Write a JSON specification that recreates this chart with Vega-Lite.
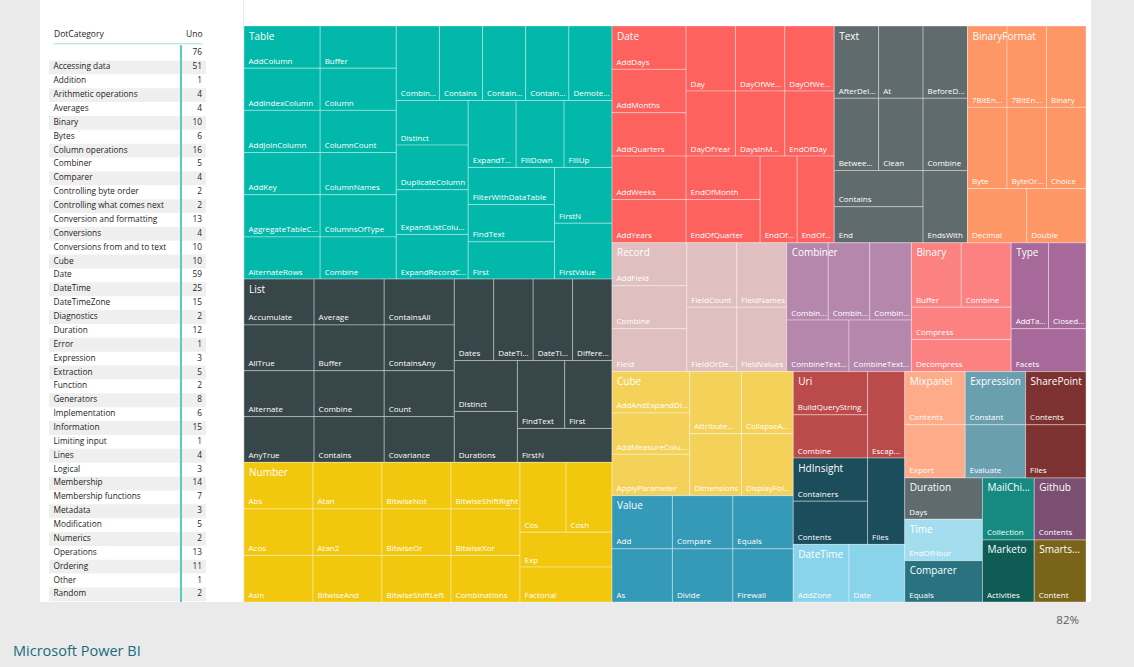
{
  "$schema": "https://vega.github.io/schema/vega-lite/v6.json",
  "background": "#eaeaea",
  "padding": {"left": 13, "top": 0, "right": 44, "bottom": 8},
  "spacing": 0,
  "config": {
    "view": {"stroke": null, "fill": "#ffffff"},
    "font": "Segoe UI, Open Sans, sans-serif",
    "title": {"font": "Segoe UI, Open Sans, sans-serif", "fontWeight": "normal"}
  },
  "datasets": {
    "table": [
      {"DotCategory": "", "Uno": 76},
      {"DotCategory": "Accessing data", "Uno": 51},
      {"DotCategory": "Addition", "Uno": 1},
      {"DotCategory": "Arithmetic operations", "Uno": 4},
      {"DotCategory": "Averages", "Uno": 4},
      {"DotCategory": "Binary", "Uno": 10},
      {"DotCategory": "Bytes", "Uno": 6},
      {"DotCategory": "Column operations", "Uno": 16},
      {"DotCategory": "Combiner", "Uno": 5},
      {"DotCategory": "Comparer", "Uno": 4},
      {"DotCategory": "Controlling byte order", "Uno": 2},
      {"DotCategory": "Controlling what comes next", "Uno": 2},
      {"DotCategory": "Conversion and formatting", "Uno": 13},
      {"DotCategory": "Conversions", "Uno": 4},
      {"DotCategory": "Conversions from and to text", "Uno": 10},
      {"DotCategory": "Cube", "Uno": 10},
      {"DotCategory": "Date", "Uno": 59},
      {"DotCategory": "DateTime", "Uno": 25},
      {"DotCategory": "DateTimeZone", "Uno": 15},
      {"DotCategory": "Diagnostics", "Uno": 2},
      {"DotCategory": "Duration", "Uno": 12},
      {"DotCategory": "Error", "Uno": 1},
      {"DotCategory": "Expression", "Uno": 3},
      {"DotCategory": "Extraction", "Uno": 5},
      {"DotCategory": "Function", "Uno": 2},
      {"DotCategory": "Generators", "Uno": 8},
      {"DotCategory": "Implementation", "Uno": 6},
      {"DotCategory": "Information", "Uno": 15},
      {"DotCategory": "Limiting input", "Uno": 1},
      {"DotCategory": "Lines", "Uno": 4},
      {"DotCategory": "Logical", "Uno": 3},
      {"DotCategory": "Membership", "Uno": 14},
      {"DotCategory": "Membership functions", "Uno": 7},
      {"DotCategory": "Metadata", "Uno": 3},
      {"DotCategory": "Modification", "Uno": 5},
      {"DotCategory": "Numerics", "Uno": 2},
      {"DotCategory": "Operations", "Uno": 13},
      {"DotCategory": "Ordering", "Uno": 11},
      {"DotCategory": "Other", "Uno": 1},
      {"DotCategory": "Random", "Uno": 2}
    ],
    "groups": [
      {"g": "Table", "gs": 0, "dirs": "ccrcrcc"},
      {"g": "List", "gs": 0, "dirs": "cccrcrc"},
      {"g": "Number", "gs": 0, "dirs": "ccccrc"},
      {"g": "Date", "gs": 1, "dirs": "crrcr"},
      {"g": "Text", "gs": 1, "dirs": "rrcc"},
      {"g": "BinaryFormat", "gs": 1, "dirs": "rrr"},
      {"g": "Record", "gs": 2, "dirs": "crr"},
      {"g": "Combiner", "gs": 2, "dirs": "rr"},
      {"g": "Binary", "gs": 2, "dirs": "rrr"},
      {"g": "Type", "gs": 2, "dirs": "rr"},
      {"g": "Cube", "gs": 3, "dirs": "crr"},
      {"g": "Value", "gs": 3, "dirs": "ccc"},
      {"g": "Uri", "gs": 4, "dirs": "cc"},
      {"g": "HdInsight", "gs": 4, "dirs": "cc"},
      {"g": "DateTime", "gs": 4, "dirs": "cc"},
      {"g": "Mixpanel", "gs": 5, "dirs": "rr"},
      {"g": "Expression", "gs": 5, "dirs": "rr"},
      {"g": "SharePoint", "gs": 5, "dirs": "rr"},
      {"g": "Duration", "gs": 6, "dirs": "c"},
      {"g": "Time", "gs": 6, "dirs": "c"},
      {"g": "Comparer", "gs": 6, "dirs": "c"},
      {"g": "MailChimp", "gs": 7, "dirs": "c"},
      {"g": "Github", "gs": 7, "dirs": "c"},
      {"g": "Marketo", "gs": 8, "dirs": "c"},
      {"g": "Smartsheet", "gs": 8, "dirs": "c"}
    ],
    "tiles": [
      {"g": "Table", "n": "AddColumn", "s": 0},
      {"g": "Table", "n": "AddIndexColumn", "s": 0},
      {"g": "Table", "n": "AddJoinColumn", "s": 0},
      {"g": "Table", "n": "AddKey", "s": 0},
      {"g": "Table", "n": "AggregateTableColumn", "s": 0},
      {"g": "Table", "n": "AlternateRows", "s": 0},
      {"g": "Table", "n": "Buffer", "s": 1},
      {"g": "Table", "n": "Column", "s": 1},
      {"g": "Table", "n": "ColumnCount", "s": 1},
      {"g": "Table", "n": "ColumnNames", "s": 1},
      {"g": "Table", "n": "ColumnsOfType", "s": 1},
      {"g": "Table", "n": "Combine", "s": 1},
      {"g": "Table", "n": "CombineColumns", "s": 2},
      {"g": "Table", "n": "Contains", "s": 2},
      {"g": "Table", "n": "ContainsAll", "s": 2},
      {"g": "Table", "n": "ContainsAny", "s": 2},
      {"g": "Table", "n": "DemoteHeaders", "s": 2},
      {"g": "Table", "n": "Distinct", "s": 3},
      {"g": "Table", "n": "DuplicateColumn", "s": 3},
      {"g": "Table", "n": "ExpandListColumn", "s": 3},
      {"g": "Table", "n": "ExpandRecordColumn", "s": 3},
      {"g": "Table", "n": "ExpandTableColumn", "s": 4},
      {"g": "Table", "n": "FillDown", "s": 4},
      {"g": "Table", "n": "FillUp", "s": 4},
      {"g": "Table", "n": "FilterWithDataTable", "s": 5},
      {"g": "Table", "n": "FindText", "s": 5},
      {"g": "Table", "n": "First", "s": 5},
      {"g": "Table", "n": "FirstN", "s": 6},
      {"g": "Table", "n": "FirstValue", "s": 6},
      {"g": "List", "n": "Accumulate", "s": 0},
      {"g": "List", "n": "AllTrue", "s": 0},
      {"g": "List", "n": "Alternate", "s": 0},
      {"g": "List", "n": "AnyTrue", "s": 0},
      {"g": "List", "n": "Average", "s": 1},
      {"g": "List", "n": "Buffer", "s": 1},
      {"g": "List", "n": "Combine", "s": 1},
      {"g": "List", "n": "Contains", "s": 1},
      {"g": "List", "n": "ContainsAll", "s": 2},
      {"g": "List", "n": "ContainsAny", "s": 2},
      {"g": "List", "n": "Count", "s": 2},
      {"g": "List", "n": "Covariance", "s": 2},
      {"g": "List", "n": "Dates", "s": 3},
      {"g": "List", "n": "DateTimes", "s": 3},
      {"g": "List", "n": "DateTimeZones", "s": 3},
      {"g": "List", "n": "Difference", "s": 3},
      {"g": "List", "n": "Distinct", "s": 4},
      {"g": "List", "n": "Durations", "s": 4},
      {"g": "List", "n": "FindText", "s": 5},
      {"g": "List", "n": "First", "s": 5},
      {"g": "List", "n": "FirstN", "s": 6},
      {"g": "Number", "n": "Abs", "s": 0},
      {"g": "Number", "n": "Acos", "s": 0},
      {"g": "Number", "n": "Asin", "s": 0},
      {"g": "Number", "n": "Atan", "s": 1},
      {"g": "Number", "n": "Atan2", "s": 1},
      {"g": "Number", "n": "BitwiseAnd", "s": 1},
      {"g": "Number", "n": "BitwiseNot", "s": 2},
      {"g": "Number", "n": "BitwiseOr", "s": 2},
      {"g": "Number", "n": "BitwiseShiftLeft", "s": 2},
      {"g": "Number", "n": "BitwiseShiftRight", "s": 3},
      {"g": "Number", "n": "BitwiseXor", "s": 3},
      {"g": "Number", "n": "Combinations", "s": 3},
      {"g": "Number", "n": "Cos", "s": 4},
      {"g": "Number", "n": "Cosh", "s": 4},
      {"g": "Number", "n": "Exp", "s": 5},
      {"g": "Number", "n": "Factorial", "s": 5},
      {"g": "Date", "n": "AddDays", "s": 0},
      {"g": "Date", "n": "AddMonths", "s": 0},
      {"g": "Date", "n": "AddQuarters", "s": 0},
      {"g": "Date", "n": "AddWeeks", "s": 0},
      {"g": "Date", "n": "AddYears", "s": 0},
      {"g": "Date", "n": "Day", "s": 1},
      {"g": "Date", "n": "DayOfWeek", "s": 1},
      {"g": "Date", "n": "DayOfWeekName", "s": 1},
      {"g": "Date", "n": "DayOfYear", "s": 2},
      {"g": "Date", "n": "DaysInMonth", "s": 2},
      {"g": "Date", "n": "EndOfDay", "s": 2},
      {"g": "Date", "n": "EndOfMonth", "s": 3},
      {"g": "Date", "n": "EndOfQuarter", "s": 3},
      {"g": "Date", "n": "EndOfWeek", "s": 4},
      {"g": "Date", "n": "EndOfYear", "s": 4},
      {"g": "Text", "n": "AfterDelimiter", "s": 0},
      {"g": "Text", "n": "At", "s": 0},
      {"g": "Text", "n": "BeforeDelimiter", "s": 0},
      {"g": "Text", "n": "BetweenDelimiters", "s": 1},
      {"g": "Text", "n": "Clean", "s": 1},
      {"g": "Text", "n": "Combine", "s": 1},
      {"g": "Text", "n": "Contains", "s": 2},
      {"g": "Text", "n": "End", "s": 2},
      {"g": "Text", "n": "EndsWith", "s": 3},
      {"g": "BinaryFormat", "n": "7BitEncodedSignedInteger", "s": 0},
      {"g": "BinaryFormat", "n": "7BitEncodedUnsignedInteger", "s": 0},
      {"g": "BinaryFormat", "n": "Binary", "s": 0},
      {"g": "BinaryFormat", "n": "Byte", "s": 1},
      {"g": "BinaryFormat", "n": "ByteOrder", "s": 1},
      {"g": "BinaryFormat", "n": "Choice", "s": 1},
      {"g": "BinaryFormat", "n": "Decimal", "s": 2},
      {"g": "BinaryFormat", "n": "Double", "s": 2},
      {"g": "Record", "n": "AddField", "s": 0},
      {"g": "Record", "n": "Combine", "s": 0},
      {"g": "Record", "n": "Field", "s": 0},
      {"g": "Record", "n": "FieldCount", "s": 1},
      {"g": "Record", "n": "FieldNames", "s": 1},
      {"g": "Record", "n": "FieldOrDefault", "s": 2},
      {"g": "Record", "n": "FieldValues", "s": 2},
      {"g": "Combiner", "n": "CombineTextByDelimiter", "s": 0},
      {"g": "Combiner", "n": "CombineTextByEachDelimiter", "s": 0},
      {"g": "Combiner", "n": "CombineTextByLengths", "s": 0},
      {"g": "Combiner", "n": "CombineTextByPositions", "s": 1},
      {"g": "Combiner", "n": "CombineTextByRanges", "s": 1},
      {"g": "Binary", "n": "Buffer", "s": 0},
      {"g": "Binary", "n": "Combine", "s": 0},
      {"g": "Binary", "n": "Compress", "s": 1},
      {"g": "Binary", "n": "Decompress", "s": 2},
      {"g": "Type", "n": "AddTableKey", "s": 0},
      {"g": "Type", "n": "ClosedRecord", "s": 0},
      {"g": "Type", "n": "Facets", "s": 1},
      {"g": "Cube", "n": "AddAndExpandDimensionColumn", "s": 0},
      {"g": "Cube", "n": "AddMeasureColumn", "s": 0},
      {"g": "Cube", "n": "ApplyParameter", "s": 0},
      {"g": "Cube", "n": "AttributeMemberId", "s": 1},
      {"g": "Cube", "n": "CollapseAndRemoveColumns", "s": 1},
      {"g": "Cube", "n": "Dimensions", "s": 2},
      {"g": "Cube", "n": "DisplayFolders", "s": 2},
      {"g": "Value", "n": "Add", "s": 0},
      {"g": "Value", "n": "As", "s": 0},
      {"g": "Value", "n": "Compare", "s": 1},
      {"g": "Value", "n": "Divide", "s": 1},
      {"g": "Value", "n": "Equals", "s": 2},
      {"g": "Value", "n": "Firewall", "s": 2},
      {"g": "Uri", "n": "BuildQueryString", "s": 0},
      {"g": "Uri", "n": "Combine", "s": 0},
      {"g": "Uri", "n": "EscapeDataString", "s": 1},
      {"g": "HdInsight", "n": "Containers", "s": 0},
      {"g": "HdInsight", "n": "Contents", "s": 0},
      {"g": "HdInsight", "n": "Files", "s": 1},
      {"g": "DateTime", "n": "AddZone", "s": 0},
      {"g": "DateTime", "n": "Date", "s": 1},
      {"g": "Mixpanel", "n": "Contents", "s": 0},
      {"g": "Mixpanel", "n": "Export", "s": 1},
      {"g": "Expression", "n": "Constant", "s": 0},
      {"g": "Expression", "n": "Evaluate", "s": 1},
      {"g": "SharePoint", "n": "Contents", "s": 0},
      {"g": "SharePoint", "n": "Files", "s": 1},
      {"g": "Duration", "n": "Days", "s": 0},
      {"g": "Time", "n": "EndOfHour", "s": 0},
      {"g": "Comparer", "n": "Equals", "s": 0},
      {"g": "MailChimp", "n": "Collection", "s": 0},
      {"g": "Github", "n": "Contents", "s": 0},
      {"g": "Marketo", "n": "Activities", "s": 0},
      {"g": "Smartsheet", "n": "Content", "s": 0}
    ]
  },
  "hconcat": [
    {
      "width": 203,
      "height": 602,
      "data": {"name": "table"},
      "title": {"text": "Microsoft Power BI", "orient": "bottom", "anchor": "start", "frame": "group", "offset": 54, "dx": -27, "baseline": "alphabetic", "fontSize": 14.5, "color": "#1a6a7d"},
      "transform": [
        {"window": [{"op": "row_number", "as": "r"}]},
        {"calculate": "datum.r - 0.5", "as": "r0"},
        {"calculate": "datum.r + 0.5", "as": "r1"}
      ],
      "layer": [
        {
          "transform": [{"filter": "datum.r % 2 == 0"}],
          "mark": {"type": "rect", "color": "#efefef", "xOffset": -4.5, "x2Offset": 4},
          "encoding": {
            "x": {"datum": "DotCategory", "type": "nominal", "scale": {"type": "point", "domain": ["DotCategory", "Uno"], "range": [13.5, 162], "padding": 0},
              "axis": {"orient": "top", "offset": -43.3, "ticks": false, "labelPadding": 5, "domainColor": "#a9dcd7", "domainWidth": 1, "labelColor": "#252423", "labelFontSize": 8.5, "labelAngle": 0, "title": null, "grid": false,
                "labelAlign": {"condition": {"test": "datum.value == 'Uno'", "value": "right"}, "value": "left"}}},
            "x2": {"datum": "Uno"},
            "y": {"field": "r0", "type": "quantitative", "scale": {"domain": [-2.857, 40.546], "reverse": true, "nice": false, "zero": false}, "axis": null},
            "y2": {"field": "r1"}
          }
        },
        {
          "mark": {"type": "rule", "color": "#5ccbc2", "xOffset": -21.3, "clip": true, "strokeWidth": 1},
          "encoding": {
            "x": {"datum": "Uno", "type": "nominal", "scale": {"type": "point", "domain": ["DotCategory", "Uno"], "range": [13.5, 162], "padding": 0}},
            "y": {"datum": 0.45, "type": "quantitative", "scale": {"domain": [-2.857, 40.546], "reverse": true, "nice": false, "zero": false}, "axis": null},
            "y2": {"datum": 42}
          }
        },
        {
          "mark": {"type": "text", "align": "left", "baseline": "middle", "fontSize": 8.3, "color": "#252423", "clip": true},
          "encoding": {
            "x": {"datum": "DotCategory", "type": "nominal", "scale": {"type": "point", "domain": ["DotCategory", "Uno"], "range": [13.5, 162], "padding": 0}},
            "y": {"field": "r", "type": "quantitative", "scale": {"domain": [-2.857, 40.546], "reverse": true, "nice": false, "zero": false}, "axis": null},
            "text": {"field": "DotCategory", "type": "nominal"}
          }
        },
        {
          "mark": {"type": "text", "align": "right", "baseline": "middle", "fontSize": 8.3, "color": "#252423", "clip": true},
          "encoding": {
            "x": {"datum": "Uno", "type": "nominal", "scale": {"type": "point", "domain": ["DotCategory", "Uno"], "range": [13.5, 162], "padding": 0}},
            "y": {"field": "r", "type": "quantitative", "scale": {"domain": [-2.857, 40.546], "reverse": true, "nice": false, "zero": false}, "axis": null},
            "text": {"field": "Uno", "type": "quantitative", "format": "d"}
          }
        }
      ]
    },
    {
      "width": 847,
      "height": 602,
      "data": {"name": "tiles"},
      "title": {"text": "82%", "orient": "bottom", "anchor": "end", "frame": "group", "offset": 21, "dx": -12, "baseline": "alphabetic", "fontSize": 11.5, "color": "#605e5c"},
      "transform": [
        {"lookup": "g", "from": {"data": {"name": "groups"}, "key": "g", "fields": ["gs", "dirs"]}},
        {"window": [{"op": "row_number", "as": "idx"}]},
        {"joinaggregate": [{"op": "count", "as": "gn"}, {"op": "min", "field": "idx", "as": "gfirst"}], "groupby": ["g"]},
        {"joinaggregate": [{"op": "count", "as": "sn"}], "groupby": ["gs"]},
        {"joinaggregate": [{"op": "count", "as": "N"}]},
        {"window": [{"op": "count", "as": "cumS"}], "sort": [{"field": "gs"}], "frame": [null, 0]},
        {"calculate": "substring('crrccrcrr', datum.gs, datum.gs + 1)", "as": "sd"},
        {"calculate": "datum.sn / (datum.N - datum.cumS + datum.sn)", "as": "f"},
        {"calculate": "datum.sd == 'c' ? log(max(1 - datum.f, 1e-9)) : 0", "as": "lc"},
        {"calculate": "datum.sd == 'r' ? log(max(1 - datum.f, 1e-9)) : 0", "as": "lr"},
        {"calculate": "datum.lc / datum.sn", "as": "lci"},
        {"calculate": "datum.lr / datum.sn", "as": "lri"},
        {"window": [{"op": "sum", "field": "lci", "as": "cLc"}, {"op": "sum", "field": "lri", "as": "cLr"}], "sort": [{"field": "gs"}], "frame": [null, 0]},
        {"calculate": "842 * exp(datum.cLc - datum.lc)", "as": "Wk"},
        {"calculate": "576 * exp(datum.cLr - datum.lr)", "as": "Hk"},
        {"window": [{"op": "count", "as": "cumG"}], "groupby": ["gs"], "sort": [{"field": "gfirst"}], "frame": [null, 0]},
        {"calculate": "(datum.cumG - datum.gn) / datum.sn", "as": "pg"},
        {"calculate": "datum.gn / datum.sn", "as": "qg"},
        {"calculate": "datum.sd == 'c' ? 842 - datum.Wk : 842 - datum.Wk + datum.Wk * datum.pg", "as": "gx0"},
        {"calculate": "datum.sd == 'c' ? datum.Wk * datum.f : datum.Wk * datum.qg", "as": "gw"},
        {"calculate": "datum.sd == 'c' ? 576 - datum.Hk + datum.Hk * datum.pg : 576 - datum.Hk", "as": "gy0"},
        {"calculate": "datum.sd == 'c' ? datum.Hk * datum.qg : datum.Hk * datum.f", "as": "gh"},
        {"joinaggregate": [{"op": "count", "as": "tn"}], "groupby": ["g", "s"]},
        {"window": [{"op": "count", "as": "cumT"}], "groupby": ["g"], "sort": [{"field": "s"}], "frame": [null, 0]},
        {"calculate": "substring(datum.dirs, datum.s, datum.s + 1)", "as": "td"},
        {"calculate": "datum.tn / (datum.gn - datum.cumT + datum.tn)", "as": "f2"},
        {"calculate": "datum.td == 'c' ? log(max(1 - datum.f2, 1e-9)) : 0", "as": "lc2"},
        {"calculate": "datum.td == 'r' ? log(max(1 - datum.f2, 1e-9)) : 0", "as": "lr2"},
        {"calculate": "datum.lc2 / datum.tn", "as": "lci2"},
        {"calculate": "datum.lr2 / datum.tn", "as": "lri2"},
        {"window": [{"op": "sum", "field": "lci2", "as": "cLc2"}, {"op": "sum", "field": "lri2", "as": "cLr2"}], "groupby": ["g"], "sort": [{"field": "s"}], "frame": [null, 0]},
        {"calculate": "datum.gw * exp(datum.cLc2 - datum.lc2)", "as": "W2"},
        {"calculate": "datum.gh * exp(datum.cLr2 - datum.lr2)", "as": "H2"},
        {"calculate": "datum.gx0 + datum.gw - datum.W2", "as": "x2k"},
        {"calculate": "datum.gy0 + datum.gh - datum.H2", "as": "y2k"},
        {"window": [{"op": "row_number", "as": "p"}], "groupby": ["g", "s"], "sort": [{"field": "idx"}]},
        {"calculate": "datum.td == 'c' ? datum.x2k : datum.x2k + datum.W2 * (datum.p - 1) / datum.tn", "as": "tx0"},
        {"calculate": "datum.td == 'c' ? datum.x2k + datum.W2 * datum.f2 : datum.x2k + datum.W2 * datum.p / datum.tn", "as": "tx1"},
        {"calculate": "datum.td == 'c' ? datum.y2k + datum.H2 * (datum.p - 1) / datum.tn : datum.y2k", "as": "ty0"},
        {"calculate": "datum.td == 'c' ? datum.y2k + datum.H2 * datum.p / datum.tn : datum.y2k + datum.H2 * datum.f2", "as": "ty1"}
      ],
      "layer": [
        {
          "mark": {"type": "rect", "stroke": "#ffffff", "strokeOpacity": 0.35, "strokeWidth": 1},
          "encoding": {
            "x": {"field": "tx0", "type": "quantitative", "scale": {"domain": [0, 847], "nice": false, "zero": false}, "axis": null},
            "x2": {"field": "tx1"},
            "y": {"field": "ty0", "type": "quantitative", "scale": {"domain": [-26, 576], "reverse": true, "nice": false, "zero": false}, "axis": null},
            "y2": {"field": "ty1"},
            "color": {"field": "g", "type": "nominal", "legend": null,
              "scale": {"domain": ["Table", "List", "Number", "Date", "Text", "BinaryFormat", "Record", "Combiner", "Binary", "Type", "Cube", "Value", "Uri", "HdInsight", "DateTime", "Mixpanel", "Expression", "SharePoint", "Duration", "Time", "Comparer", "MailChimp", "Github", "Marketo", "Smartsheet"],
                "range": ["#01B8AA", "#374649", "#F2C80F", "#FD625E", "#5F6B6D", "#FE9666", "#DFBFBF", "#B687AC", "#FB8281", "#A66999", "#F4D25A", "#3599B8", "#BB4A4A", "#1B4D5C", "#8AD4EB", "#FDAB89", "#6A9FB0", "#7D3231", "#5F6B6D", "#A4DDEE", "#28737F", "#168980", "#7B4F71", "#0F5C55", "#796419"]}}
          }
        },
        {
          "mark": {"type": "text", "align": "left", "baseline": "alphabetic", "dx": 4.5, "dy": -4.5, "fontSize": 8, "color": "#ffffff", "ellipsis": "...", "limit": {"expr": "datum.tx1 - datum.tx0 - 6"}},
          "encoding": {
            "x": {"field": "tx0", "type": "quantitative", "scale": {"domain": [0, 847], "nice": false, "zero": false}, "axis": null},
            "y": {"field": "ty1", "type": "quantitative", "scale": {"domain": [-26, 576], "reverse": true, "nice": false, "zero": false}, "axis": null},
            "text": {"field": "n", "type": "nominal"}
          }
        },
        {
          "transform": [{"filter": "datum.idx == datum.gfirst"}],
          "mark": {"type": "text", "align": "left", "baseline": "alphabetic", "dx": 5, "dy": 13.5, "fontSize": 10, "color": "#ffffff", "ellipsis": "...", "limit": {"expr": "datum.gw - 7"}},
          "encoding": {
            "x": {"field": "gx0", "type": "quantitative", "scale": {"domain": [0, 847], "nice": false, "zero": false}, "axis": null},
            "y": {"field": "gy0", "type": "quantitative", "scale": {"domain": [-26, 576], "reverse": true, "nice": false, "zero": false}, "axis": null},
            "text": {"field": "g", "type": "nominal"}
          }
        }
      ]
    }
  ]
}
